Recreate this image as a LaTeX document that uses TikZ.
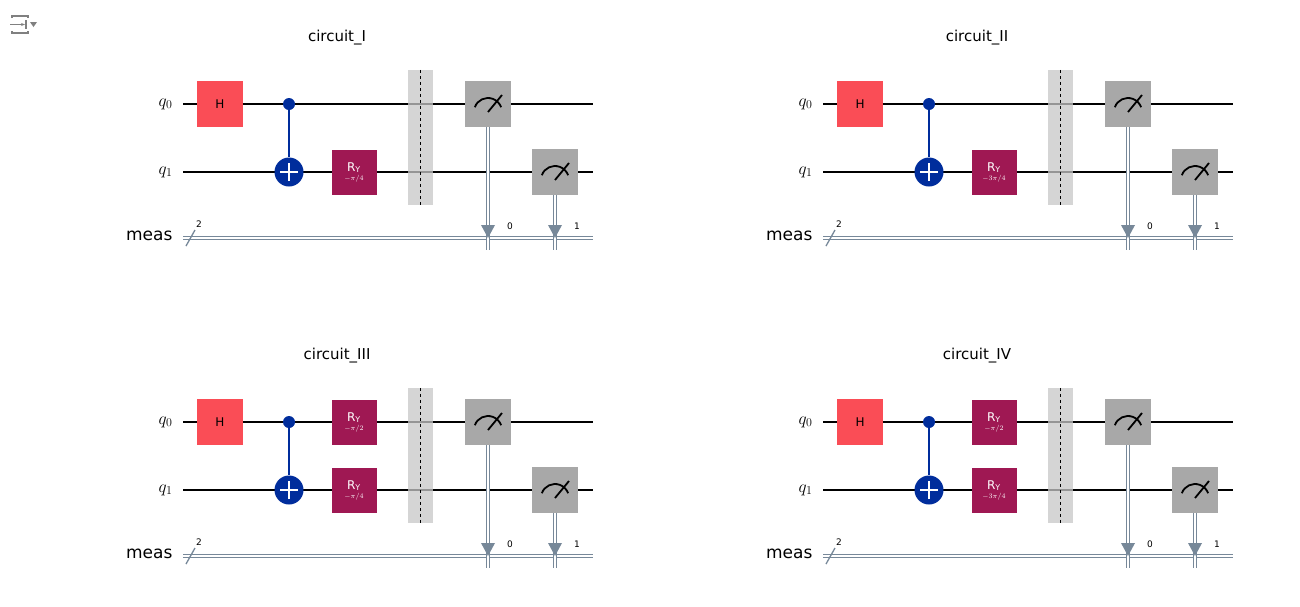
\documentclass[tikz,border=0pt]{standalone}
\usepackage{fontspec}
\setmainfont{DejaVu Sans}
\usetikzlibrary{arrows.meta}

\definecolor{hred}{HTML}{FA4D56}
\definecolor{rymag}{HTML}{9F1853}
\definecolor{cxblue}{HTML}{002D9C}
\definecolor{measgray}{HTML}{A8A8A8}
\definecolor{cgray}{HTML}{778899}

\tikzset{
  title/.style={font=\fontsize{15}{18}\selectfont},
  qlab/.style={anchor=east, font=\fontsize{17}{20}\selectfont},
  qwire/.style={line width=1.6pt},
  cwire/.style={cgray, line width=1.3pt},
  hgate/.style={fill=hred, minimum size=46pt, inner sep=0pt, font=\fontsize{12}{14}\selectfont},
  rygate/.style={fill=rymag, text=white, minimum size=45pt, inner sep=0pt, align=center},
  mgate/.style={fill=measgray, minimum size=46pt, inner sep=0pt},
  ctrl/.style={circle, fill=cxblue, minimum size=12pt, inner sep=0pt},
  targ/.style={circle, fill=cxblue, minimum size=29pt, inner sep=0pt},
  barrier/.style={fill=black!22, fill opacity=0.75, minimum width=25pt, minimum height=135pt, inner sep=0pt},
  small/.style={font=\fontsize{9}{10}\selectfont}
}

% R_Y label with its angle
\newcommand\rylab[1]{{\fontsize{12}{13}\selectfont R\textsubscript{Y}}\\[-3pt]{\fontsize{7}{8}\selectfont$#1$}}

% meter symbol in a measure box
\newcommand\meter[1]{%
  \draw[line width=1.8pt] ([shift={(-13.2,3.2)}]#1.center) arc[start angle=200, end angle=340, radius=14];
  \draw[line width=1.8pt] ([shift={(0,8)}]#1.center) -- ([shift={(14,-9)}]#1.center);}

% classical arrow from a measure box down to the register
\newcommand\measarrow[2]{%
  \draw[cwire, double=white, double distance=2.2pt] (#1.south) -- ([yshift=-12]#2);
  \fill[cgray] ([shift={(-7,-13)}]#2) -- ([shift={(7,-13)}]#2) -- (#2) -- cycle;}

% one circuit: x shift, y shift, title, angle on q1, angle on q0 (may be empty)
\newcommand\qcirc[5]{%
\begin{scope}[shift={(#1,#2)}]
  \node[title] (ttl) at (337,38) {#3};
  \node[qlab] (l0) at (176,104) {$q_0$};
  \node[qlab] (l1) at (176,172) {$q_1$};
  \node[qlab] (lm) at (176,236) {meas};
  \coordinate (w0a) at (183,104); \coordinate (w0b) at (593,104);
  \coordinate (w1a) at (183,172); \coordinate (w1b) at (593,172);
  \coordinate (ca) at (183,238);  \coordinate (cb) at (593,238);
  \draw[qwire] (w0a) -- (w0b);
  \draw[qwire] (w1a) -- (w1b);
  \draw[cwire, double=white, double distance=2.2pt] (ca) -- (cb);
  \coordinate (sa) at (186,246); \coordinate (sb) at (195,230);
  \draw[cwire] (sa) -- (sb);
  \node[small] (nreg) at (199,224) {2};
  \node[hgate] (h) at (220,104) {H};
  \node[ctrl] (c) at (289,104) {};
  \node[targ] (x) at (289,172) {};
  \draw[cxblue, line width=1.6pt] (c) -- (x);
  \draw[white, line width=2.2pt] ([yshift=-9]x.center) -- ([yshift=9]x.center)
    ([xshift=-9]x.center) -- ([xshift=9]x.center);
  \node[rygate] (ry1) at (354,172) {\rylab{#4}};
  \if\relax\detokenize{#5}\relax\else
    \node[rygate] (ry0) at (354,104) {\rylab{#5}};
  \fi
  \node[barrier] (bar) at (420.5,137.5) {};
  \draw[dashed, line width=0.9pt] (bar.north) -- (bar.south);
  \node[mgate] (m0) at (488,104) {};
  \node[mgate] (m1) at (555,172) {};
  \meter{m0}
  \meter{m1}
  \coordinate (t0) at (488,238);
  \coordinate (t1) at (555,238);
  \measarrow{m0}{t0}
  \measarrow{m1}{t1}
  \node[small] (b0) at (510,226) {0};
  \node[small] (b1) at (577,226) {1};
\end{scope}}

\begin{document}
\begin{tikzpicture}[x=1pt, y=-1pt]
  \useasboundingbox[fill=white] (0,0) rectangle (1300,606);
  % icon top left
  \draw[gray, line width=1.4pt] (12,18) -- (12,16) -- (28,16) -- (28,18)
    (12,31) -- (12,33) -- (28,33) -- (28,31);
  \draw[gray, line width=1.4pt, -{Stealth[length=4pt]}] (10,24.5) -- (25,24.5);
  \draw[gray, line width=1.4pt] (26,20) -- (26,29);
  \fill[gray] (30,22) -- (37,22) -- (33.5,27) -- cycle;

  \qcirc{0}{0}{circuit\_I}{-\pi/4}{}
  \qcirc{640}{0}{circuit\_II}{-3\pi/4}{}
  \qcirc{0}{318}{circuit\_III}{-\pi/4}{-\pi/2}
  \qcirc{640}{318}{circuit\_IV}{-3\pi/4}{-\pi/2}
\end{tikzpicture}
\end{document}
